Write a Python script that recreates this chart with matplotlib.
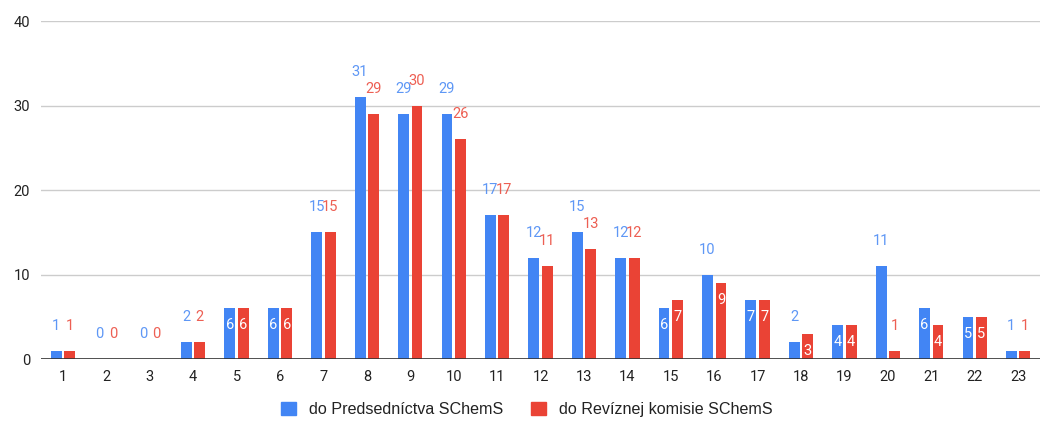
import matplotlib
matplotlib.use('Agg')
import matplotlib.pyplot as plt
from matplotlib.patches import Patch
import numpy as np

plt.rcParams['font.family'] = ['Roboto', 'DejaVu Sans']

categories = [str(i) for i in range(1, 24)]
predsednictvo = [1, 0, 0, 2, 6, 6, 15, 31, 29, 29, 17, 12, 15, 12, 6, 10, 7, 2, 4, 11, 6, 5, 1]
revizna = [1, 0, 0, 2, 6, 6, 15, 29, 30, 26, 17, 11, 13, 12, 7, 9, 7, 3, 4, 1, 4, 5, 1]
series_names = ['do Predsedníctva SChemS', 'do Revíznej komisie SChemS']

blue = '#4285F4'
red = '#EA4335'

fig = plt.figure(figsize=(10.43, 4.21), dpi=100)
ax = fig.add_axes([0.0395, 0.147, 0.9575, 0.803])

x = np.arange(1, 24)
w = 0.25
off = 0.155

for vals, dx, col in [(predsednictvo, -off, blue), (revizna, off, red)]:
    ax.bar(x + dx, vals, width=w, color=col, zorder=3)
    for xi, v in zip(x, vals):
        if 3 <= v <= 9:
            # label inside the bar
            ax.annotate(str(v), (xi + dx, v), xytext=(0, -17), textcoords='offset pixels',
                        ha='center', va='center', color='white', fontsize=10.5, zorder=5)
        else:
            ax.annotate(str(v), (xi + dx, v), xytext=(0, 25), textcoords='offset pixels',
                        ha='center', va='center', color=col, fontsize=10.5, alpha=0.85, zorder=5)

ax.set_xlim(0.5, 23.5)
ax.set_ylim(0, 40)
ax.set_yticks([0, 10, 20, 30, 40])
ax.set_xticks(x)
ax.set_xticklabels(categories)
ax.grid(axis='y', color='#cccccc', linewidth=1, zorder=0)
ax.axhline(0, color='#333333', linewidth=1.2, zorder=4)
for s in ax.spines.values():
    s.set_visible(False)
ax.tick_params(axis='both', length=0, labelsize=10.5, colors='#222222')
ax.tick_params(axis='y', pad=8)
ax.tick_params(axis='x', pad=8)

handles = [Patch(color=blue), Patch(color=red)]
fig.legend(handles, series_names, loc='lower center', bbox_to_anchor=(0.505, -0.025), ncol=2,
           frameon=False, prop={'family': 'Liberation Sans', 'size': 11.6},
           handlelength=0.95, handleheight=0.95,
           handletextpad=0.8, columnspacing=1.7, labelcolor='#222222')

fig.savefig('out.png', dpi=100)
